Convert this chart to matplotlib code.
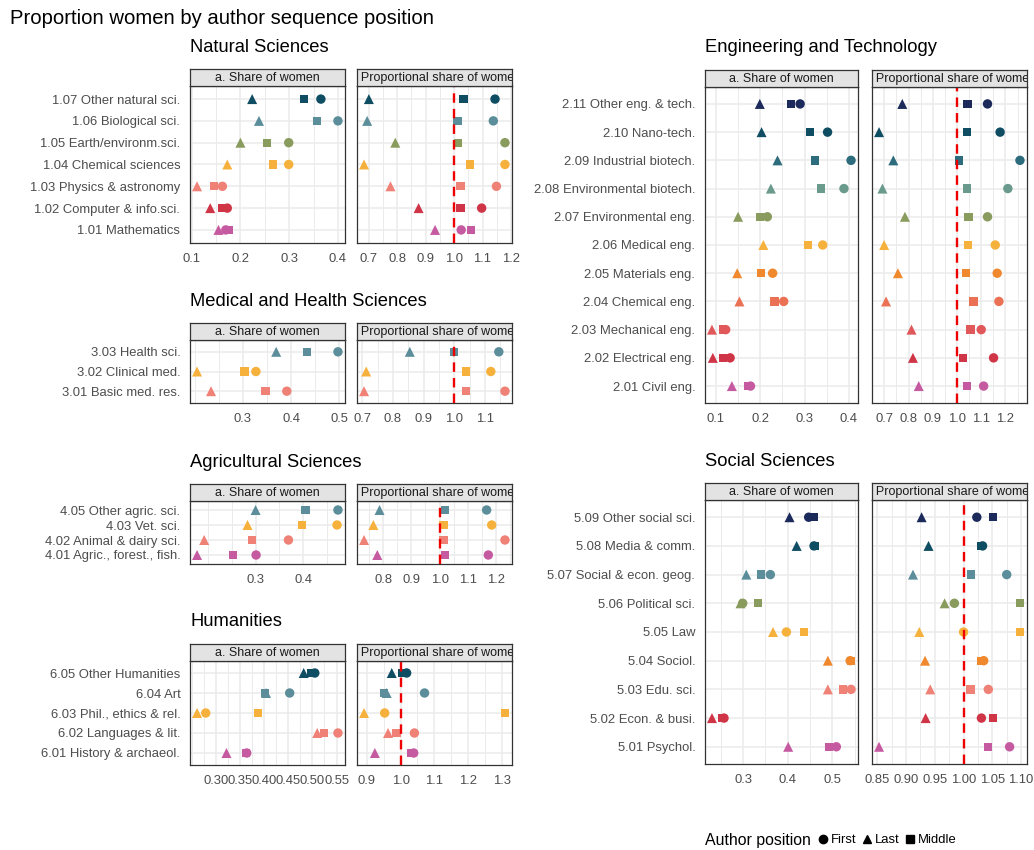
import matplotlib.pyplot as plt
from matplotlib.lines import Line2D
from matplotlib.ticker import AutoMinorLocator

plt.rcParams['font.family'] = ['Liberation Sans', 'DejaVu Sans']

# ── Data: fields listed bottom → top, values per author position ─────────────
NAT_FIELDS = ["1.01 Mathematics", "1.02 Computer & info.sci.", "1.03 Physics & astronomy",
              "1.04 Chemical sciences", "1.05 Earth/environm.sci.", "1.06 Biological sci.",
              "1.07 Other natural sci."]
NAT_SHARE = {"First":  [0.170, 0.173, 0.163, 0.299, 0.299, 0.400, 0.365],
             "Last":   [0.155, 0.138, 0.111, 0.173, 0.200, 0.238, 0.224],
             "Middle": [0.176, 0.162, 0.146, 0.267, 0.255, 0.357, 0.330]}
NAT_PROP = {"First":  [1.025, 1.097, 1.149, 1.179, 1.179, 1.138, 1.144],
            "Last":   [0.933, 0.875, 0.776, 0.683, 0.793, 0.694, 0.700],
            "Middle": [1.060, 1.023, 1.023, 1.056, 1.013, 1.012, 1.033]}

MED_FIELDS = ["3.01 Basic med. res.", "3.02 Clinical med.", "3.03 Health sci."]
MED_SHARE = {"First":  [0.391, 0.327, 0.497],
             "Last":   [0.234, 0.205, 0.369],
             "Middle": [0.347, 0.303, 0.433]}
MED_PROP = {"First":  [1.165, 1.119, 1.145],
            "Last":   [0.706, 0.713, 0.855],
            "Middle": [1.039, 1.039, 1.000]}

AGR_FIELDS = ["4.01 Agric., forest., fish.", "4.02 Animal & dairy sci.", "4.03 Vet. sci.",
              "4.05 Other agric. sci."]
AGR_SHARE = {"First":  [0.301, 0.369, 0.471, 0.473],
             "Last":   [0.177, 0.192, 0.283, 0.300],
             "Middle": [0.252, 0.293, 0.397, 0.405]}
AGR_PROP = {"First":  [1.173, 1.232, 1.185, 1.167],
            "Last":   [0.779, 0.732, 0.765, 0.787],
            "Middle": [1.020, 1.014, 1.014, 1.020]}

HUM_FIELDS = ["6.01 History & archaeol.", "6.02 Languages & lit.", "6.03 Phil., ethics & rel.",
              "6.04 Art", "6.05 Other Humanities"]
HUM_SHARE = {"First":  [0.364, 0.553, 0.279, 0.453, 0.505],
             "Last":   [0.322, 0.510, 0.261, 0.404, 0.482],
             "Middle": [0.362, 0.524, 0.388, 0.402, 0.498]}
HUM_PROP = {"First":  [1.039, 1.041, 0.953, 1.071, 1.018],
            "Last":   [0.924, 0.963, 0.892, 0.959, 0.974],
            "Middle": [1.031, 0.988, 1.309, 0.951, 1.005]}

ENG_FIELDS = ["2.01 Civil eng.", "2.02 Electrical eng.", "2.03 Mechanical eng.",
              "2.04 Chemical eng.", "2.05 Materials eng.", "2.06 Medical eng.",
              "2.07 Environmental eng.", "2.08 Environmental biotech.",
              "2.09 Industrial biotech.", "2.10 Nano-tech.", "2.11 Other eng. & tech."]
ENG_SHARE = {"First":  [0.178, 0.132, 0.122, 0.253, 0.228, 0.341, 0.216, 0.389, 0.405, 0.352, 0.290],
             "Last":   [0.136, 0.093, 0.091, 0.153, 0.148, 0.207, 0.150, 0.224, 0.239, 0.203, 0.199],
             "Middle": [0.173, 0.116, 0.116, 0.232, 0.202, 0.308, 0.199, 0.337, 0.324, 0.312, 0.270]}
ENG_PROP = {"First":  [1.110, 1.151, 1.100, 1.173, 1.166, 1.158, 1.126, 1.210, 1.260, 1.178, 1.126],
            "Last":   [0.842, 0.818, 0.812, 0.707, 0.756, 0.699, 0.785, 0.692, 0.737, 0.678, 0.774],
            "Middle": [1.040, 1.026, 1.056, 1.068, 1.036, 1.045, 1.048, 1.040, 1.008, 1.041, 1.044]}

SOC_FIELDS = ["5.01 Psychol.", "5.02 Econ. & busi.", "5.03 Edu. sci.", "5.04 Sociol.", "5.05 Law",
              "5.06 Political sci.", "5.07 Social & econ. geog.", "5.08 Media & comm.",
              "5.09 Other social sci."]
SOC_SHARE = {"First":  [0.509, 0.257, 0.542, 0.540, 0.397, 0.299, 0.361, 0.459, 0.447],
             "Last":   [0.401, 0.230, 0.490, 0.490, 0.367, 0.294, 0.307, 0.420, 0.404],
             "Middle": [0.493, 0.253, 0.524, 0.542, 0.436, 0.334, 0.340, 0.461, 0.459]}
SOC_PROP = {"First":  [1.080, 1.031, 1.043, 1.035, 1.000, 0.984, 1.075, 1.033, 1.023],
            "Last":   [0.853, 0.934, 0.942, 0.933, 0.923, 0.967, 0.912, 0.939, 0.927],
            "Middle": [1.042, 1.051, 1.012, 1.030, 1.098, 1.098, 1.013, 1.030, 1.051]}

# tick breaks shown under each panel
NAT_TICKS = (["0.1", "0.2", "0.3", "0.4"], ["0.7", "0.8", "0.9", "1.0", "1.1", "1.2"])
MED_TICKS = (["0.3", "0.4", "0.5"], ["0.7", "0.8", "0.9", "1.0", "1.1"])
AGR_TICKS = (["0.3", "0.4"], ["0.8", "0.9", "1.0", "1.1", "1.2"])
HUM_TICKS = (["0.30", "0.35", "0.40", "0.45", "0.50", "0.55"], ["0.9", "1.0", "1.1", "1.2", "1.3"])
ENG_TICKS = (["0.1", "0.2", "0.3", "0.4"], ["0.7", "0.8", "0.9", "1.0", "1.1", "1.2"])
SOC_TICKS = (["0.3", "0.4", "0.5"], ["0.85", "0.90", "0.95", "1.00", "1.05", "1.10"])

# ── Colours (bottom → top within each group) ─────────────────────────────────
NAVY, DTEAL, TEAL, GTEAL, GGREEN = "#1b2a5b", "#0f4d63", "#2d6c7c", "#5b8e9a", "#6a9a8c"
OLIVE, YELLOW, ORANGE, SORANGE = "#899b5d", "#f6b13c", "#f0892e", "#eb7155"
SALMON, CORAL, CRIMSON, PINK = "#ef8176", "#e0585a", "#cf3547", "#c65aa1"

NAT_COLS = [PINK, CRIMSON, SALMON, YELLOW, OLIVE, GTEAL, DTEAL]
MED_COLS = [SALMON, YELLOW, GTEAL]
AGR_COLS = [PINK, SALMON, YELLOW, GTEAL]
HUM_COLS = [PINK, SALMON, YELLOW, GTEAL, DTEAL]
ENG_COLS = [PINK, CRIMSON, CORAL, SORANGE, ORANGE, YELLOW, OLIVE, GGREEN, TEAL, DTEAL, NAVY]
SOC_COLS = [PINK, CRIMSON, SALMON, ORANGE, YELLOW, OLIVE, GTEAL, DTEAL, NAVY]

MARKERS = {"First": ("o", 46), "Last": ("^", 52), "Middle": ("s", 36)}
GRID = "#ebebeb"
TXT = "#4d4d4d"
FS = 9.4

W, H = 1034, 850
fig = plt.figure(figsize=(W / 100, H / 100), dpi=100)


def box(x0, y0, x1, y1):
    """Axes from a pixel box measured from the top-left corner."""
    return fig.add_axes([x0 / W, 1 - y1 / H, (x1 - x0) / W, (y1 - y0) / H])


def panel(x0, x1, top, bottom, fields, values, colors, ticks, strip, show_y, ref):
    n = len(fields)
    ax = box(x0, top, x1, bottom)
    ys = list(range(n))
    for pos in ["First", "Last", "Middle"]:
        m, s = MARKERS[pos]
        ax.scatter(values[pos], ys, c=colors, marker=m, s=s, linewidths=0, zorder=3)
    allv = [v for pos in values for v in values[pos]]
    if ref:
        allv.append(1.0)
        ax.axvline(1.0, color="#ee0000", lw=1.7, ls=(0, (4, 2.6)), zorder=4)
    lo, hi = min(allv), max(allv)
    pad = 0.05 * (hi - lo)
    ax.set_xlim(lo - pad, hi + pad)
    ax.set_ylim(-0.6, n - 0.4)
    ax.set_xticks([float(t) for t in ticks])
    ax.set_xticklabels(ticks)
    ax.xaxis.set_minor_locator(AutoMinorLocator(2))
    ax.set_yticks(ys)
    ax.set_yticklabels(fields if show_y else [])
    ax.grid(True, which="major", color=GRID, lw=1.1, zorder=0)
    ax.grid(True, which="minor", axis="x", color=GRID, lw=0.7, zorder=0)
    ax.set_axisbelow(True)
    ax.tick_params(which="both", length=0, labelsize=FS, labelcolor=TXT)
    ax.tick_params(axis="x", pad=7)
    ax.tick_params(axis="y", pad=7)
    for sp in ax.spines.values():
        sp.set_color("#333333")
        sp.set_linewidth(0.9)

    # facet strip; long labels are clipped to the strip box
    sax = box(x0, top - 17, x1, top)
    sax.set_facecolor("#e3e3e3")
    sax.set_xticks([])
    sax.set_yticks([])
    for sp in sax.spines.values():
        sp.set_color("#333333")
        sp.set_linewidth(0.9)
    sax.text(0.5, 0.45, strip, ha="center", va="center", fontsize=9.0,
             color="#1a1a1a", transform=sax.transAxes, clip_on=True)


def group(title, fields, share, prop, colors, ticks, col, top, bottom):
    xl = (190, 345, 357, 512) if col == 0 else (705, 858, 872, 1027)
    fig.text(xl[0] / W, 1 - (top - 39) / H, title, fontsize=13.2, va="center", ha="left")
    panel(xl[0], xl[1], top, bottom, fields, share, colors, ticks[0],
          "a. Share of women", True, False)
    panel(xl[2], xl[3], top, bottom, fields, prop, colors, ticks[1],
          "b. Proportional share of women", False, True)


fig.text(10 / W, 1 - 19 / H, "Proportion women by author sequence position", fontsize=14.6,
         va="center", ha="left")

group("Natural Sciences", NAT_FIELDS, NAT_SHARE, NAT_PROP, NAT_COLS, NAT_TICKS, 0, 86, 243)
group("Medical and Health Sciences", MED_FIELDS, MED_SHARE, MED_PROP, MED_COLS, MED_TICKS, 0, 340, 403)
group("Agricultural Sciences", AGR_FIELDS, AGR_SHARE, AGR_PROP, AGR_COLS, AGR_TICKS, 0, 501, 564)
group("Humanities", HUM_FIELDS, HUM_SHARE, HUM_PROP, HUM_COLS, HUM_TICKS, 0, 661, 765)
group("Engineering and Technology", ENG_FIELDS, ENG_SHARE, ENG_PROP, ENG_COLS, ENG_TICKS, 1, 87, 403)
group("Social Sciences", SOC_FIELDS, SOC_SHARE, SOC_PROP, SOC_COLS, SOC_TICKS, 1, 500, 764)

# legend along the bottom
fig.text(705 / W, 1 - 840 / H, "Author position", fontsize=11.4, va="center", ha="left")
handles = [Line2D([], [], ls="none", marker=MARKERS[p][0], color="black",
                  markersize=6 if p != "Middle" else 5.5) for p in ["First", "Last", "Middle"]]
fig.legend(handles, ["First", "Last", "Middle"], loc="center left",
           bbox_to_anchor=(818 / W, 1 - 840 / H), ncol=3, frameon=False, fontsize=9.4,
           handlelength=0.8, handletextpad=0.2, columnspacing=0.4, borderpad=0,
           borderaxespad=0)

fig.savefig("out.png", dpi=100)
